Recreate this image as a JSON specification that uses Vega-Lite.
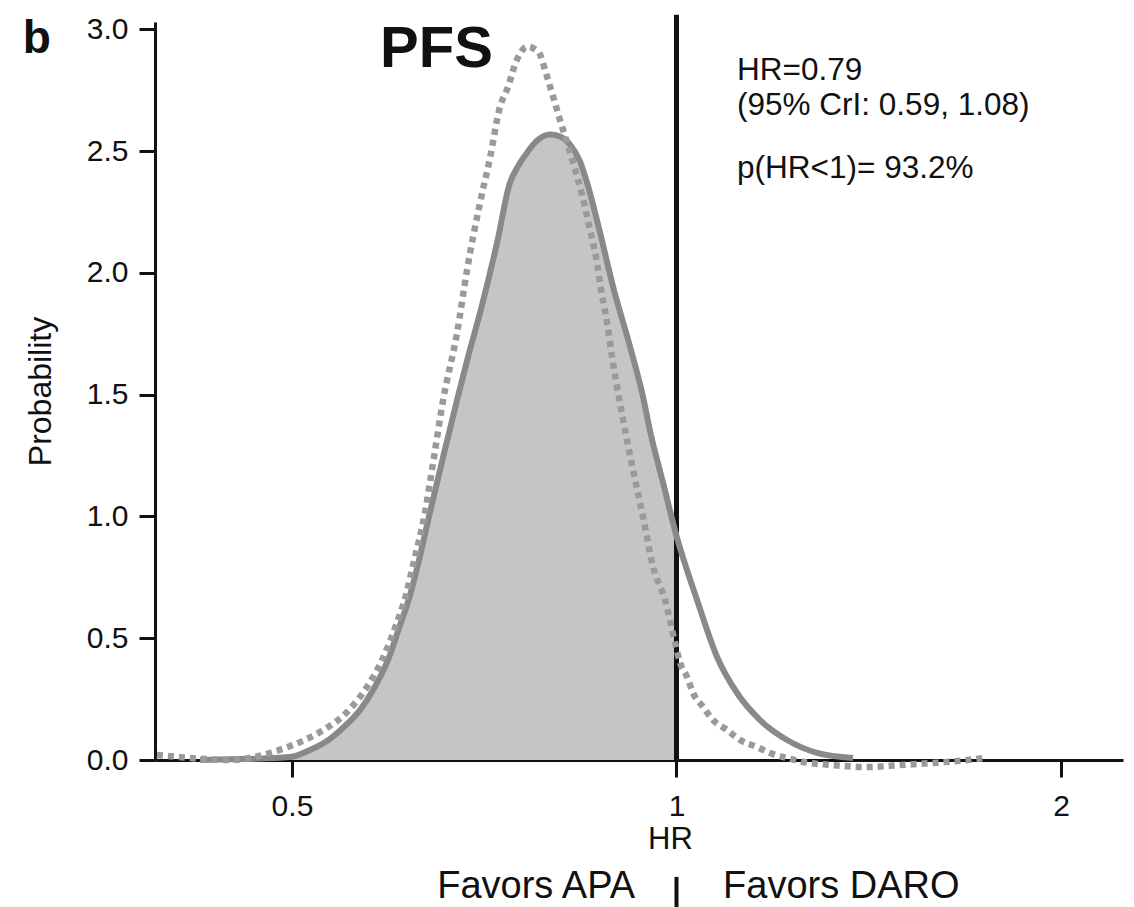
{
  "$schema": "https://vega.github.io/schema/vega-lite/v6.json",
  "width": 968,
  "height": 738,
  "autosize": {"type": "none"},
  "padding": {"left": 155, "top": 22, "right": 11, "bottom": 147},
  "background": "white",
  "config": {"view": {"stroke": null}, "font": "Liberation Sans"},
  "datasets": {
    "solid": [
      {"x": 0.4236, "y": 0}, {"x": 0.4472, "y": 0.003}, {"x": 0.4720, "y": 0.006}, {"x": 0.4983, "y": 0.012},
      {"x": 0.5165, "y": 0.041}, {"x": 0.5326, "y": 0.078}, {"x": 0.5502, "y": 0.140}, {"x": 0.5652, "y": 0.205},
      {"x": 0.5787, "y": 0.287}, {"x": 0.5945, "y": 0.411}, {"x": 0.6075, "y": 0.554}, {"x": 0.6186, "y": 0.677},
      {"x": 0.6265, "y": 0.788}, {"x": 0.6413, "y": 1.018}, {"x": 0.6566, "y": 1.244}, {"x": 0.6733, "y": 1.478},
      {"x": 0.6868, "y": 1.656}, {"x": 0.7018, "y": 1.836},
      {"x": 0.7237, "y": 2.124}, {"x": 0.7408, "y": 2.371}, {"x": 0.7475, "y": 2.416}, {"x": 0.7639, "y": 2.494},
      {"x": 0.7778, "y": 2.543}, {"x": 0.7962, "y": 2.568}, {"x": 0.8107, "y": 2.560}, {"x": 0.8254, "y": 2.527},
      {"x": 0.8405, "y": 2.457}, {"x": 0.8511, "y": 2.371}, {"x": 0.8713, "y": 2.165}, {"x": 0.8920, "y": 1.943},
      {"x": 0.9197, "y": 1.697}, {"x": 0.9415, "y": 1.491}, {"x": 0.9535, "y": 1.35}, {"x": 0.9761, "y": 1.138},
      {"x": 1.0, "y": 0.92}, {"x": 1.0378, "y": 0.657}, {"x": 1.0759, "y": 0.423}, {"x": 1.1154, "y": 0.275},
      {"x": 1.1626, "y": 0.164}, {"x": 1.2206, "y": 0.082}, {"x": 1.2884, "y": 0.029}, {"x": 1.3748, "y": 0.008}
    ],
    "dotted": [
      {"x": 0.3920, "y": 0.021}, {"x": 0.4086, "y": 0.012}, {"x": 0.4274, "y": 0.004}, {"x": 0.4472, "y": 0.0},
      {"x": 0.4695, "y": 0.015}, {"x": 0.4832, "y": 0.033}, {"x": 0.4983, "y": 0.057}, {"x": 0.5259, "y": 0.115},
      {"x": 0.5522, "y": 0.197}, {"x": 0.5724, "y": 0.300}, {"x": 0.5892, "y": 0.419}, {"x": 0.6032, "y": 0.554},
      {"x": 0.6141, "y": 0.677}, {"x": 0.6220, "y": 0.801}, {"x": 0.6356, "y": 1.018}, {"x": 0.6459, "y": 1.244},
      {"x": 0.6566, "y": 1.478}, {"x": 0.6733, "y": 1.753}, {"x": 0.6856, "y": 2.013},
      {"x": 0.7018, "y": 2.288}, {"x": 0.7146, "y": 2.473}, {"x": 0.7276, "y": 2.683}, {"x": 0.7368, "y": 2.753},
      {"x": 0.7502, "y": 2.876}, {"x": 0.7639, "y": 2.929}, {"x": 0.7792, "y": 2.909}, {"x": 0.7919, "y": 2.806},
      {"x": 0.8005, "y": 2.724}, {"x": 0.8136, "y": 2.60}, {"x": 0.8299, "y": 2.453}, {"x": 0.8435, "y": 2.321},
      {"x": 0.8542, "y": 2.194}, {"x": 0.8651, "y": 2.062}, {"x": 0.8729, "y": 1.931}, {"x": 0.8824, "y": 1.795},
      {"x": 0.8904, "y": 1.656}, {"x": 0.8984, "y": 1.532}, {"x": 0.9082, "y": 1.397}, {"x": 0.9247, "y": 1.191},
      {"x": 0.9415, "y": 0.998}, {"x": 0.9587, "y": 0.793}, {"x": 0.9796, "y": 0.657}, {"x": 0.9974, "y": 0.481},
      {"x": 1.0065, "y": 0.399}, {"x": 1.0193, "y": 0.341}, {"x": 1.0304, "y": 0.275}, {"x": 1.0491, "y": 0.218},
      {"x": 1.0682, "y": 0.164}, {"x": 1.0955, "y": 0.123}, {"x": 1.1215, "y": 0.082}, {"x": 1.1564, "y": 0.053},
      {"x": 1.1838, "y": 0.029}, {"x": 1.2206, "y": 0.008}, {"x": 1.2563, "y": -0.008}, {"x": 1.3262, "y": -0.021},
      {"x": 1.4101, "y": -0.029}, {"x": 1.4965, "y": -0.021}, {"x": 1.5882, "y": -0.012}, {"x": 1.6885, "y": 0.0},
      {"x": 1.7379, "y": 0.008}
    ]
  },
  "encoding": {
    "x": {
      "field": "x", "type": "quantitative",
      "scale": {"type": "log", "domain": [0.3906, 2.2365], "nice": false},
      "axis": {
        "values": [0.5, 1, 2], "format": "~g", "title": "HR", "grid": false,
        "domainWidth": 3, "domainColor": "#111", "tickWidth": 3, "tickColor": "#111", "tickSize": 17,
        "labelFontSize": 30, "labelColor": "#111", "labelPadding": 14, "labelFlush": false, "labelOverlap": false,
        "titleFontSize": 31, "titleFontWeight": "normal", "titleColor": "#111",
        "titleX": 515, "titleY": 88, "titleBaseline": "alphabetic", "titleAlign": "center"
      }
    },
    "y": {
      "field": "y", "type": "quantitative",
      "scale": {"domain": [0, 3.03], "nice": false, "zero": true},
      "axis": {
        "values": [0, 0.5, 1, 1.5, 2, 2.5, 3], "format": ".1f", "title": "Probability", "grid": false,
        "domainWidth": 3, "domainColor": "#111", "tickWidth": 3, "tickColor": "#111", "tickSize": 16,
        "labelFontSize": 30, "labelColor": "#111", "labelPadding": 11, "labelFlush": false, "labelOverlap": false,
        "titleFontSize": 32, "titleFontWeight": "normal", "titleColor": "#111",
        "titleX": -105, "titleY": 369, "titleBaseline": "alphabetic", "titleAngle": -90, "titleAlign": "center"
      }
    }
  },
  "layer": [
    {
      "data": {"name": "solid"},
      "transform": [{"filter": "datum.x <= 1"}],
      "mark": {"type": "area", "color": "#c5c5c5", "interpolate": "monotone"},
      "encoding": {}
    },
    {
      "data": {"values": [{"x": 1, "y": 0, "y2": 3.06}]},
      "mark": {"type": "rule", "color": "#111", "strokeWidth": 5},
      "encoding": {"y2": {"field": "y2"}}
    },
    {
      "data": {"values": [{"x": 1, "y": -0.48, "y2": -0.61}]},
      "mark": {"type": "rule", "color": "#111", "strokeWidth": 4},
      "encoding": {"y2": {"field": "y2"}}
    },
    {
      "data": {"name": "solid"},
      "mark": {"type": "line", "color": "#898989", "strokeWidth": 6, "interpolate": "monotone"},
      "encoding": {}
    },
    {
      "data": {"name": "dotted"},
      "mark": {"type": "line", "color": "#9a9a9a", "strokeWidth": 6.5, "strokeDash": [6, 5], "strokeCap": "butt", "interpolate": "monotone"},
      "encoding": {}
    },
    {
      "data": {"values": [{"label": "b", "x": 0.3078, "y": 2.903}]},
      "mark": {"type": "text", "align": "left", "baseline": "alphabetic", "fontSize": 46, "fontWeight": "bold", "color": "#111"},
      "encoding": {"text": {"field": "label"}}
    },
    {
      "data": {"values": [{"label": "PFS", "x": 0.586, "y": 2.845}]},
      "mark": {"type": "text", "align": "left", "baseline": "alphabetic", "fontSize": 58, "fontWeight": "bold", "color": "#111"},
      "encoding": {"text": {"field": "label"}}
    },
    {
      "data": {"values": [
        {"label": "HR=0.79", "x": 1.1154, "y": 2.792},
        {"label": "(95% CrI: 0.59, 1.08)", "x": 1.1154, "y": 2.648},
        {"label": "p(HR<1)= 93.2%", "x": 1.1154, "y": 2.390}
      ]},
      "mark": {"type": "text", "align": "left", "baseline": "alphabetic", "fontSize": 31.5, "color": "#111"},
      "encoding": {"text": {"field": "label"}}
    },
    {
      "data": {"values": [{"label": "Favors APA", "x": 0.928, "y": -0.567}]},
      "mark": {"type": "text", "align": "right", "baseline": "alphabetic", "fontSize": 38, "color": "#111"},
      "encoding": {"text": {"field": "label"}}
    },
    {
      "data": {"values": [{"label": "Favors DARO", "x": 1.0876, "y": -0.567}]},
      "mark": {"type": "text", "align": "left", "baseline": "alphabetic", "fontSize": 38, "color": "#111"},
      "encoding": {"text": {"field": "label"}}
    }
  ]
}
